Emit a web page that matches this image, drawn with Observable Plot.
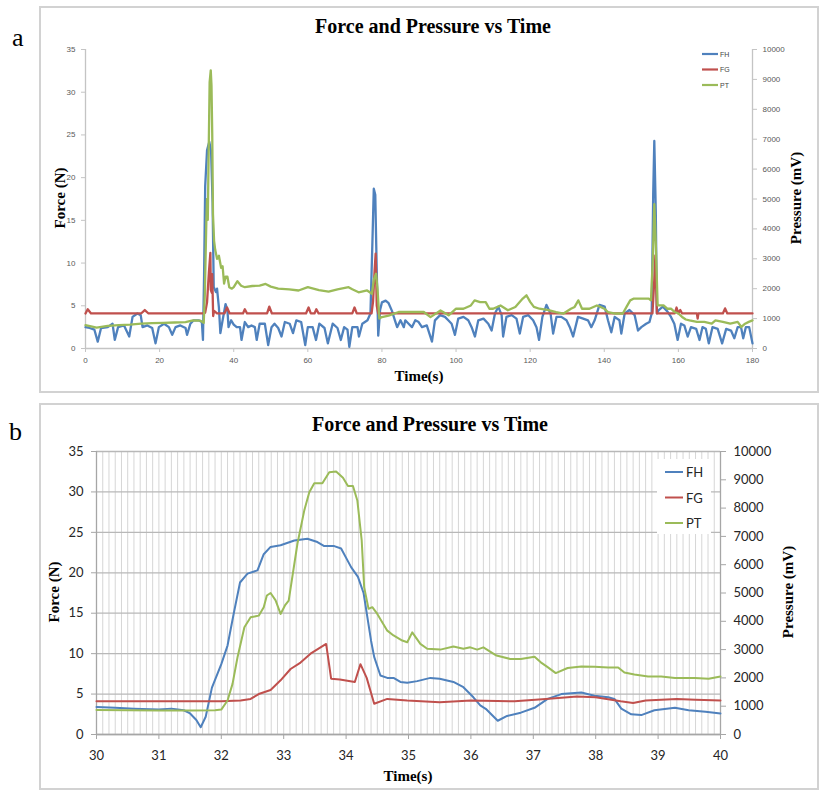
<!DOCTYPE html>
<html><head><meta charset="utf-8">
<script src="https://cdn.jsdelivr.net/npm/d3@7"></script>
<script src="https://cdn.jsdelivr.net/npm/@observablehq/plot@0.6"></script>
<style>
html,body{margin:0;padding:0;background:#fff}
body{width:820px;height:791px;position:relative;overflow:hidden}
.abs{position:absolute;left:0;top:0}
</style></head><body>
<div id="pa" class="abs" style="left:40px;top:7px"></div>
<div id="pb" class="abs" style="left:40px;top:404px"></div>
<svg id="ov" class="abs" width="820" height="791" style="pointer-events:none"></svg>
<script>
// ---------- data ----------
const seriesNames = ["FH", "FG", "PT"];
const seriesColors = ["#4F81BD", "#C0504D", "#9BBB59"];
const chartTitle = "Force and Pressure vs Time";
const xTitle = "Time(s)";
const yTitle = "Force (N)";
const y2Title = "Pressure (mV)";

// panel a ticks
const xTicksA = [0, 20, 40, 60, 80, 100, 120, 140, 160, 180];
const yTicksA = [0, 5, 10, 15, 20, 25, 30, 35];
const pTicksA = [0, 1000, 2000, 3000, 4000, 5000, 6000, 7000, 8000, 9000, 10000];
// panel b ticks
const xTicksB = [30, 31, 32, 33, 34, 35, 36, 37, 38, 39, 40];
const yTicksB = [0, 5, 10, 15, 20, 25, 30, 35];
const pTicksB = [0, 1000, 2000, 3000, 4000, 5000, 6000, 7000, 8000, 9000, 10000];
const minorStepB = 0.1;

// panel a: FH force (N), [time s, value]
const fhA = [[0,2.5],[1.1,2.4],[2.4,2.2],[3.3,0.8],[4.2,2.4],[6,2.5],[7.3,2.9],[7.9,1.0],[8.8,2.5],[10.4,2.7],[11.8,1.4],[12.7,3.7],[14,4.1],[14.9,3.9],[15.4,2.5],[16.7,2.7],[18,2.4],[18.9,0.6],[19.8,2.5],[21.2,2.9],[22.5,2.5],[23.4,1.6],[24.3,2.5],[25.6,2.7],[27,2.4],[27.4,1.6],[28.3,2.9],[29.2,3.3],[30.5,3.3],[31.4,3.1],[31.7,1.0],[32,8.5],[32.3,19],[32.8,23.2],[33.4,24.2],[33.9,23],[34.3,17],[34.6,7.2],[35.2,6.6],[35.5,7.0],[36,4.8],[36.4,1.8],[37,3.3],[37.8,5.2],[38.3,4.5],[38.6,2.5],[39.3,3.3],[40,2.8],[40.8,2.5],[41.7,2.5],[42.1,1.0],[43,3.1],[43.9,2.5],[44.8,2.7],[45.7,2.5],[46.2,1.0],[47,2.9],[48.4,2.9],[49.3,0.4],[50.2,2.5],[51,2.9],[52,2.4],[52.9,1.4],[53.8,3.1],[55.1,2.9],[56,1.8],[56.9,3.3],[58.2,3.1],[59.3,0.4],[60,2.5],[61.3,2.5],[62.2,1.0],[63.1,2.9],[64.5,2.4],[65.4,0.6],[66.7,2.9],[68,2.4],[68.9,1.0],[69.8,2.5],[70.7,2.2],[71.2,0.2],[72,2.5],[73.4,2.5],[73.8,1.4],[74.7,2.9],[76.1,3.3],[76.9,4.1],[77.4,12],[77.8,18.7],[78.2,18.0],[78.6,9],[79.0,1.5],[79.5,4.5],[80.0,5.4],[81.0,5.6],[81.8,5.3],[82.7,4.4],[83.5,3.3],[84.1,2.5],[85,3.3],[85.9,2.5],[86.3,3.3],[87.2,2.9],[88.1,2.5],[89,3.3],[89.9,3.1],[90.8,2.5],[92.1,2.7],[93.5,0.8],[94.3,3.3],[95.7,3.9],[97,3.7],[97.9,3.3],[98.8,2.9],[99.7,1.6],[100.6,3.5],[102,3.7],[103.3,3.3],[104.2,2.5],[105.1,1.4],[106,3.3],[107.4,3.5],[108.7,2.9],[109.6,2.1],[110.5,4.1],[111.4,4.9],[112.3,3.9],[112.7,1.4],[113.6,3.7],[115,3.9],[116.3,3.5],[117.2,1.75],[118.1,3.7],[119.5,3.9],[120.8,3.3],[121.7,2.5],[122.4,1.0],[123.3,3.7],[124.4,5.1],[125.5,4.1],[126.2,1.75],[127.1,3.7],[128.4,3.7],[129.8,3.3],[130.7,2.5],[131.6,1.4],[132.9,3.7],[134.3,3.5],[135.6,3.3],[136.5,2.5],[137.4,3.3],[138.7,5.1],[140.1,4.9],[141,3.3],[141.9,1.9],[142.8,3.7],[144.1,3.3],[144.6,1.75],[145.5,4.1],[146.8,4.5],[148.2,3.9],[149.1,2.1],[150,2.5],[151.3,2.9],[152.2,3.1],[152.8,4.1],[153.2,18],[153.5,24.3],[153.9,16],[154.2,4.1],[154.7,4.5],[155.8,4.9],[157.1,4.3],[158,3.7],[158.9,2.9],[159.8,1.0],[160.7,2.9],[161.6,2.7],[162.5,1.4],[163.4,2.5],[164.8,2.3],[165.7,1.0],[166.5,2.5],[167.4,2.3],[168.2,0.6],[169.2,2.5],[170.6,2.3],[171.8,0.6],[172.9,2.3],[174.2,2.1],[175.1,1.2],[176,2.5],[176.9,2.5],[177.5,1.2],[178.2,2.5],[179.1,2.5],[180,0.6]];

// panel a: FG force (N)
const fgA = [[0,4.1],[0.6,4.6],[1.5,4.1],[15,4.1],[16,4.5],[17,4.1],[31.8,4.1],[32.3,4.2],[32.8,5.4],[33.3,8.9],[33.7,11.2],[33.8,6.9],[34.1,6.5],[34.2,8.7],[34.45,3.8],[34.7,4.4],[35.5,4.1],[37.5,4.1],[38.2,4.8],[38.9,4.1],[42.5,4.1],[43,4.6],[43.6,4.1],[49,4.1],[49.6,4.9],[50.3,4.1],[59.5,4.1],[60.2,4.8],[60.8,4.1],[61.8,4.1],[62.3,4.6],[62.9,4.1],[72,4.1],[72.6,4.8],[73.2,4.1],[77.2,4.1],[77.6,5.5],[78.0,9],[78.3,11.1],[78.6,5],[79.0,4.1],[120,4.1],[153,4.1],[153.5,8],[153.8,10.9],[154.2,4.1],[159,4.1],[159.5,4.8],[160,4.1],[160.5,4.5],[161,4.1],[165,4.1],[165.2,3.5],[165.4,4.1],[172,4.1],[172.6,4.7],[173.2,4.1],[180,4.1]];

// panel a: PT pressure (mV)
const ptA = [[0,780],[3,700],[6,760],[9,780],[12,800],[15,830],[18,850],[21,860],[24,870],[27,880],[29,940],[31,930],[31.9,860],[32.2,1800],[32.6,4200],[32.8,5000],[33.0,4300],[33.2,6200],[33.5,8900],[33.8,9300],[34.0,8800],[34.2,7200],[34.4,4500],[34.7,3600],[35,3300],[35.5,3000],[36,3100],[36.6,2700],[37,2750],[37.4,2170],[37.8,2400],[38.3,2400],[38.8,2050],[39.5,2000],[40,2050],[41,2250],[42,2100],[43,2050],[45,2090],[47,2100],[48.6,2160],[50,2070],[52,2000],[55,1980],[57.5,1940],[60,2050],[63,1950],[65.6,1900],[68,1980],[71,2050],[72,1980],[73.7,1880],[76,1940],[77.3,1830],[77.8,2300],[78.4,2500],[78.8,2000],[79.3,1000],[80,1050],[81.8,1100],[84.5,1220],[87,1220],[89,1220],[91.3,1220],[93.1,1050],[95.8,1270],[98,1110],[100,1330],[102,1330],[104,1440],[105,1610],[106.5,1550],[108,1550],[109,1330],[110,1330],[112,1440],[114,1280],[116,1390],[118,1670],[119,1780],[120,1560],[121,1390],[122.5,1330],[125,1280],[127,1220],[129,1170],[131,1330],[132,1390],[133,1610],[134,1330],[136,1330],[138,1440],[139,1390],[140,1330],[141,1220],[143,1170],[145,1170],[146,1390],[147,1610],[148,1670],[150,1670],[152,1670],[152.6,1610],[153.1,3000],[153.5,4830],[153.9,3500],[154.4,1440],[155,1440],[156,1440],[157,1330],[158,1330],[159,1220],[160,1170],[161,1055],[162,970],[163,940],[165,890],[167,890],[169,830],[170,940],[172,890],[174,830],[176,890],[177,720],[178,830],[179,890],[180,940]];

// panel b: FH force (N)
const fhB = [[30,3.4],[30.3,3.3],[30.6,3.2],[31.0,3.1],[31.2,3.2],[31.4,3.0],[31.5,2.6],[31.6,1.8],[31.67,0.9],[31.75,2.2],[31.85,5.8],[32.0,8.7],[32.1,11],[32.2,15],[32.3,18.8],[32.42,19.9],[32.58,20.3],[32.68,22.3],[32.79,23.2],[32.95,23.4],[33.17,24.0],[33.38,24.2],[33.54,23.8],[33.65,23.3],[33.81,23.3],[33.92,23.0],[34.08,20.7],[34.19,19.5],[34.28,17.5],[34.4,11.6],[34.45,9.6],[34.55,7.3],[34.66,7.0],[34.76,7.0],[34.87,6.5],[34.98,6.4],[35.14,6.6],[35.35,7.0],[35.5,6.9],[35.72,6.5],[35.88,5.85],[36.04,4.6],[36.15,3.6],[36.25,3.1],[36.43,1.7],[36.58,2.3],[36.8,2.7],[37.02,3.3],[37.23,4.4],[37.45,5.0],[37.77,5.2],[37.98,4.8],[38.2,4.6],[38.3,4.4],[38.41,3.2],[38.57,2.5],[38.73,2.4],[38.94,3.0],[39.27,3.3],[39.49,3.0],[39.76,2.8],[40,2.6]];

// panel b: FG force (N)
const fgB = [[30,4.1],[31,4.1],[32,4.1],[32.31,4.2],[32.47,4.4],[32.6,5.0],[32.79,5.5],[32.95,6.7],[33.11,8.1],[33.27,8.9],[33.43,10.0],[33.68,11.2],[33.76,6.9],[33.9,6.8],[34.14,6.5],[34.23,8.7],[34.33,7.0],[34.45,3.8],[34.66,4.4],[34.98,4.2],[35.5,4.0],[36,4.2],[36.7,4.1],[37.2,4.4],[37.7,4.7],[38.0,4.6],[38.4,4.1],[38.6,3.9],[38.8,4.2],[39.3,4.4],[39.6,4.3],[40,4.2]];

// panel b: PT pressure (mV)
const ptB = [[30,870],[30.5,860],[31,850],[31.5,850],[31.9,860],[32.0,880],[32.1,1200],[32.18,1790],[32.26,2730],[32.37,3790],[32.47,4140],[32.6,4200],[32.68,4500],[32.73,4910],[32.79,5000],[32.87,4740],[32.95,4260],[33.02,4560],[33.08,4730],[33.22,6740],[33.33,7920],[33.41,8560],[33.49,8880],[33.62,8880],[33.73,9270],[33.84,9290],[33.95,9070],[34.03,8780],[34.11,8780],[34.18,8270],[34.25,6860],[34.29,5200],[34.36,4440],[34.42,4500],[34.5,4260],[34.66,3670],[34.76,3500],[34.9,3320],[34.98,3260],[35.06,3610],[35.19,3200],[35.3,3030],[35.51,3000],[35.72,3110],[35.88,3030],[35.99,3080],[36.1,3000],[36.2,3080],[36.41,2790],[36.63,2670],[36.8,2670],[37.02,2750],[37.12,2550],[37.23,2380],[37.36,2170],[37.55,2350],[37.77,2400],[37.98,2390],[38.2,2370],[38.36,2370],[38.46,2190],[38.62,2120],[38.84,2050],[39.05,2050],[39.27,2000],[39.59,2000],[39.81,1970],[40,2050]];

// ---------- drawing ----------
const forceMax = 35, pressMax = 10000;
const k = forceMax / pressMax; // pressure (mV) -> force-axis units

function panel(opts) {
  const {data, xTicks, yTicks, pTicks, grid, minor, width, height, margins, tick, lineW} = opts;
  const xDom = [xTicks[0], xTicks[xTicks.length - 1]];
  const marks = [];
  if (grid) {
    marks.push(Plot.gridX(minor, {stroke: "#d6d6d6", strokeOpacity: 1, strokeWidth: 1}));
    marks.push(Plot.gridY(yTicks, {stroke: "#b8b8b8", strokeOpacity: 1, strokeWidth: 1.3}));
  }
  marks.push(Plot.ruleX(xDom, {stroke: tick.axis, strokeWidth: 1.3}));
  marks.push(Plot.ruleY([yTicks[0]], {stroke: tick.axis, strokeWidth: 1.3}));
  const common = {fontSize: tick.fontSize, fontFamily: tick.font, fill: tick.color, stroke: tick.axis, label: null};
  marks.push(Plot.axisX(xTicks, {...common, tickSize: tick.size, tickPadding: tick.xPad}));
  marks.push(Plot.axisY(yTicks, {...common, anchor: "left", tickSize: tick.size, tickPadding: tick.yPad}));
  marks.push(Plot.axisY(pTicks.map(p => p * k), {...common, anchor: "right", tickSize: tick.size, tickPadding: tick.yPad, tickFormat: d => String(Math.round(d / k))}));
  marks.push(Plot.line(data[0], {x: d => d[0], y: d => d[1], stroke: seriesColors[0], strokeWidth: lineW, strokeLinejoin: "round"}));
  marks.push(Plot.line(data[1], {x: d => d[0], y: d => d[1], stroke: seriesColors[1], strokeWidth: lineW, strokeLinejoin: "round"}));
  marks.push(Plot.line(data[2], {x: d => d[0], y: d => d[1] * k, stroke: seriesColors[2], strokeWidth: lineW, strokeLinejoin: "round"}));
  return Plot.plot({
    width, height,
    marginLeft: margins[0], marginRight: margins[1], marginTop: margins[2], marginBottom: margins[3],
    x: {domain: xDom}, y: {domain: [0, forceMax]},
    style: {background: "transparent", overflow: "visible"},
    marks
  });
}

document.getElementById("pa").appendChild(panel({
  data: [fhA, fgA, ptA], xTicks: xTicksA, yTicks: yTicksA, pTicks: pTicksA,
  grid: false, width: 778, height: 385, margins: [45, 66, 42, 44], lineW: 2.3,
  tick: {fontSize: 8, font: "Liberation Sans, sans-serif", color: "#595959", axis: "#c4c4c4", size: 4, xPad: 5, yPad: 6}
}));

document.getElementById("pb").appendChild(panel({
  data: [fhB, fgB, ptB], xTicks: xTicksB, yTicks: yTicksB, pTicks: pTicksB,
  grid: true, minor: d3.range(xTicksB[0], xTicksB[xTicksB.length - 1] + minorStepB / 2, minorStepB),
  width: 778, height: 385, margins: [56, 98, 47, 55], lineW: 2,
  tick: {fontSize: 13, font: "Lato, sans-serif", color: "#262626", axis: "#a6a6a6", size: 5, xPad: 11, yPad: 8}
}));

// ---------- frame, titles, legends ----------
const ov = d3.select("#ov");
const serif = "Liberation Serif, Times New Roman, serif";
function frameBox(x, y, w, h) {
  ov.append("rect").attr("x", x).attr("y", y).attr("width", w).attr("height", h)
    .attr("fill", "none").attr("stroke", "#d2d2d2").attr("stroke-width", 2);
}
function txt(s, x, y, o = {}) {
  const t = ov.append("text").text(s).attr("x", x).attr("y", y)
    .style("font-family", o.font || serif).style("font-size", (o.size || 15) + "px")
    .style("font-weight", o.weight || "normal").attr("fill", o.fill || "#000")
    .attr("text-anchor", o.anchor || "start");
  if (o.rotate) t.attr("transform", `rotate(-90 ${x} ${y})`);
  if (o.baseline) t.attr("dominant-baseline", o.baseline);
  return t;
}
frameBox(40, 7, 778, 385);
frameBox(40, 404, 778, 385);

txt("a", 12, 46, {size: 26});
txt("b", 9, 440, {size: 26});

// panel a texts
txt(chartTitle, 433, 33, {size: 20, weight: "bold", anchor: "middle"});
txt(xTitle, 419, 381, {size: 15, weight: "bold", anchor: "middle"});
txt(yTitle, 65, 198, {size: 15, weight: "bold", anchor: "middle", rotate: true});
txt(y2Title, 801, 198, {size: 15, weight: "bold", anchor: "middle", rotate: true});
// panel b texts
txt(chartTitle, 430, 431, {size: 20, weight: "bold", anchor: "middle"});
txt(xTitle, 408, 781, {size: 15, weight: "bold", anchor: "middle"});
txt(yTitle, 59, 592, {size: 15, weight: "bold", anchor: "middle", rotate: true});
txt(y2Title, 793, 592, {size: 15, weight: "bold", anchor: "middle", rotate: true});

// legends
seriesNames.forEach((n, i) => {
  const ya = 54 + i * 15.5;
  ov.append("line").attr("x1", 702).attr("x2", 718).attr("y1", ya).attr("y2", ya)
    .attr("stroke", seriesColors[i]).attr("stroke-width", 2.2);
  txt(n, 720, ya, {size: 7, font: "Liberation Sans, sans-serif", fill: "#444", baseline: "central"});
});
ov.append("rect").attr("x", 657).attr("y", 459).attr("width", 54).attr("height", 75).attr("fill", "#fff");
seriesNames.forEach((n, i) => {
  const yb = 472 + i * 25.5;
  ov.append("line").attr("x1", 665).attr("x2", 683).attr("y1", yb).attr("y2", yb)
    .attr("stroke", seriesColors[i]).attr("stroke-width", 2);
  txt(n, 686, yb, {size: 13, font: "Lato, sans-serif", fill: "#262626", baseline: "central"});
});
</script>
</body></html>
